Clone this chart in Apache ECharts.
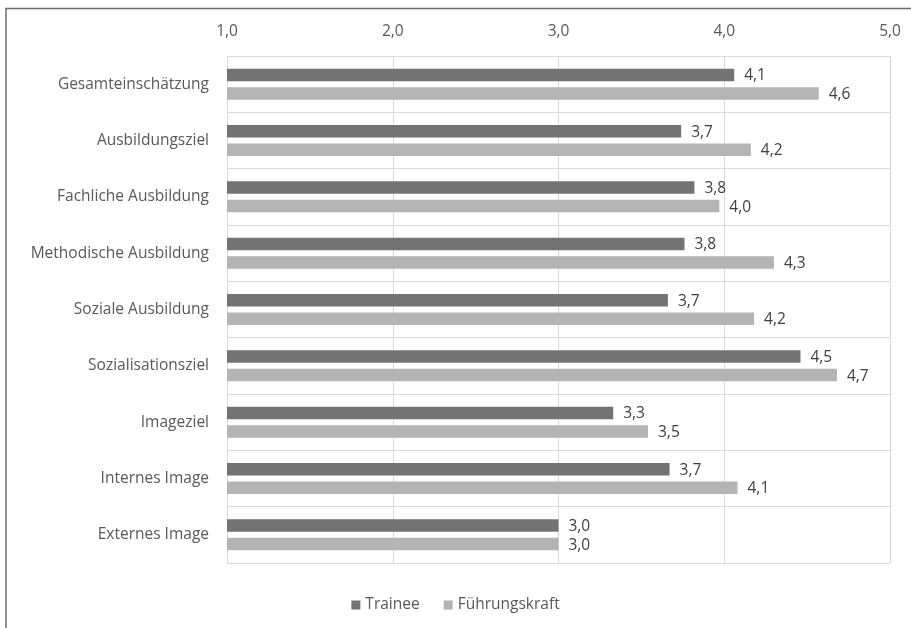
<!DOCTYPE html>
<html>
<head>
<meta charset="utf-8">
<script src="https://cdn.jsdelivr.net/npm/echarts@6/dist/echarts.min.js"></script>
<style>
  html, body { margin: 0; padding: 0; background: #fff; }
  #chart { width: 911px; height: 628px; }
</style>
</head>
<body>
<div id="chart"></div>
<script>
// Categories, top to bottom
const categories = [
  'Gesamteinschätzung',
  'Ausbildungsziel',
  'Fachliche Ausbildung',
  'Methodische Ausbildung',
  'Soziale Ausbildung',
  'Sozialisationsziel',
  'Imageziel',
  'Internes Image',
  'Externes Image'
];

// Mean ratings per group
const trainee = [4.06, 3.74, 3.82, 3.76, 3.66, 4.46, 3.33, 3.67, 3.00];
const fuehrungskraft = [4.57, 4.16, 3.97, 4.30, 4.18, 4.68, 3.54, 4.08, 3.00];

// Value axis ticks
const axisMin = 1;
const axisMax = 5;
const axisStep = 1;

const seriesNames = ['Trainee', 'Führungskraft'];

const FONT = '"Open Sans", "Liberation Sans", sans-serif';
const fmt = v => v.toFixed(1).replace('.', ',');

const chart = echarts.init(document.getElementById('chart'), null, { renderer: 'canvas' });

const valueLabel = {
  show: true,
  position: 'right',
  distance: 10,
  offset: [0, 1],
  color: '#404040',
  fontSize: 15.5,
  fontFamily: FONT,
  formatter: p => fmt(p.value)
};

chart.setOption({
  backgroundColor: '#ffffff',
  animation: false,
  textStyle: { fontFamily: FONT },
  grid: { left: 227, right: 21, top: 56, bottom: 65, containLabel: false },
  legend: {
    bottom: 10,
    left: 'center',
    icon: 'rect',
    itemWidth: 9,
    itemHeight: 9,
    itemGap: 24,
    textStyle: { color: '#595959', fontSize: 15.5, fontFamily: FONT },
    data: seriesNames
  },
  xAxis: {
    type: 'value',
    position: 'top',
    min: axisMin,
    max: axisMax,
    interval: axisStep,
    axisLine: { show: false },
    axisTick: { show: false },
    axisLabel: {
      margin: 16,
      color: '#595959',
      fontSize: 15.5,
      fontFamily: FONT,
      formatter: v => fmt(v)
    },
    splitLine: { show: true, lineStyle: { color: '#d9d9d9', width: 1 } }
  },
  yAxis: {
    type: 'category',
    inverse: true,
    data: categories,
    axisLine: { show: false },
    axisTick: { show: false },
    axisLabel: {
      margin: 18,
      color: '#595959',
      fontSize: 15.5,
      fontFamily: FONT
    },
    splitLine: { show: true, lineStyle: { color: '#d9d9d9', width: 1 } }
  },
  series: [
    {
      name: seriesNames[0],
      type: 'bar',
      data: trainee,
      barWidth: 12.5,
      barGap: '48%',
      itemStyle: { color: '#737373' },
      label: valueLabel
    },
    {
      name: seriesNames[1],
      type: 'bar',
      data: fuehrungskraft,
      barWidth: 12.5,
      itemStyle: { color: '#b4b4b4' },
      label: valueLabel
    }
  ],
  graphic: [
    {
      type: 'polyline',
      silent: true,
      shape: { points: [[6, 628], [6, 8.5], [911, 8.5]] },
      style: { stroke: '#6e6e6e', lineWidth: 1.5, fill: null }
    }
  ]
});
</script>
</body>
</html>
